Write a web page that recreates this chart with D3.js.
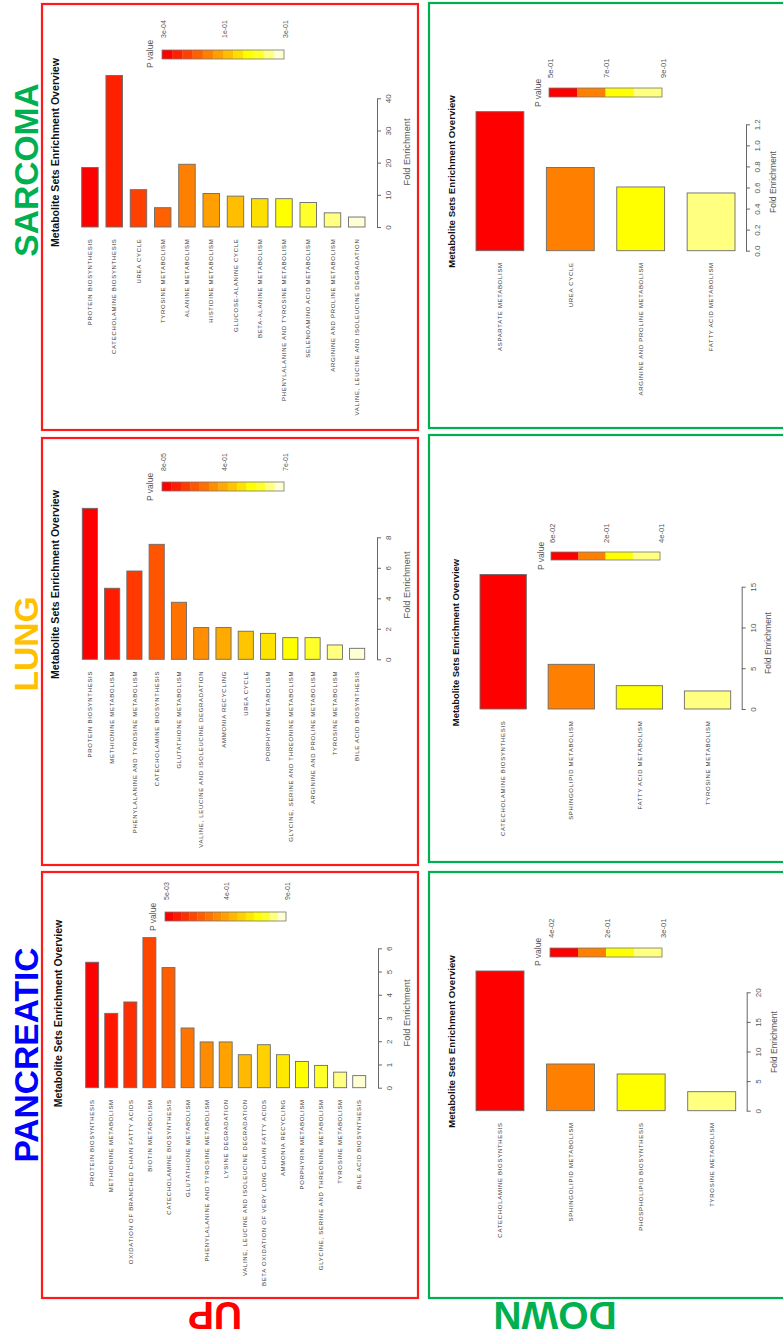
<!DOCTYPE html>
<html><head><meta charset="utf-8">
<script src="https://cdn.jsdelivr.net/npm/d3@7"></script>
<style>body{margin:0;background:#fff}svg text{font-family:"Liberation Sans",Arial,sans-serif}</style>
</head><body><svg id="c" width="783" height="1337"></svg>
<script>
// ---------- DATA ----------
const columns = ["SARCOMA", "LUNG", "PANCREATIC"];
const rows = ["UP", "DOWN"];

const sarcomaUpSets = ["PROTEIN BIOSYNTHESIS","CATECHOLAMINE BIOSYNTHESIS","UREA CYCLE","TYROSINE METABOLISM","ALANINE METABOLISM","HISTIDINE METABOLISM","GLUCOSE-ALANINE CYCLE","BETA-ALANINE METABOLISM","PHENYLALANINE AND TYROSINE METABOLISM","SELENOAMINO ACID METABOLISM","ARGININE AND PROLINE METABOLISM","VALINE, LEUCINE AND ISOLEUCINE DEGRADATION"];
const sarcomaUpFold = [18.5, 47.1, 11.6, 6.0, 19.5, 10.4, 9.6, 8.8, 8.8, 7.6, 4.4, 3.1];
const sarcomaUpTicks = [0, 10, 20, 30, 40];
const sarcomaUpP = ["3e-04", "1e-01", "3e-01"];

const lungUpSets = ["PROTEIN BIOSYNTHESIS","METHIONINE METABOLISM","PHENYLALANINE AND TYROSINE METABOLISM","CATECHOLAMINE BIOSYNTHESIS","GLUTATHIONE METABOLISM","VALINE, LEUCINE AND ISOLEUCINE DEGRADATION","AMMONIA RECYCLING","UREA CYCLE","PORPHYRIN METABOLISM","GLYCINE, SERINE AND THREONINE METABOLISM","ARGININE AND PROLINE METABOLISM","TYROSINE METABOLISM","BILE ACID BIOSYNTHESIS"];
const lungUpFold = [9.9, 4.66, 5.79, 7.54, 3.74, 2.08, 2.08, 1.84, 1.70, 1.42, 1.42, 0.94, 0.72];
const lungUpTicks = [0, 2, 4, 6, 8];
const lungUpP = ["8e-05", "4e-01", "7e-01"];

const pancUpSets = ["PROTEIN BIOSYNTHESIS","METHIONINE METABOLISM","OXIDATION OF BRANCHED CHAIN FATTY ACIDS","BIOTIN METABOLISM","CATECHOLAMINE BIOSYNTHESIS","GLUTATHIONE METABOLISM","PHENYLALANINE AND TYROSINE METABOLISM","LYSINE DEGRADATION","VALINE, LEUCINE AND ISOLEUCINE DEGRADATION","BETA OXIDATION OF VERY LONG CHAIN FATTY ACIDS","AMMONIA RECYCLING","PORPHYRIN METABOLISM","GLYCINE, SERINE AND THREONINE METABOLISM","TYROSINE METABOLISM","BILE ACID BIOSYNTHESIS"];
const pancUpFold = [5.40, 3.20, 3.69, 6.46, 5.17, 2.57, 1.97, 1.97, 1.42, 1.85, 1.42, 1.13, 0.96, 0.67, 0.52];
const pancUpTicks = [0, 1, 2, 3, 4, 5, 6];
const pancUpP = ["5e-03", "4e-01", "9e-01"];

const sarcomaDownSets = ["ASPARTATE METABOLISM","UREA CYCLE","ARGININE AND PROLINE METABOLISM","FATTY ACID METABOLISM"];
const sarcomaDownFold = [1.32, 0.79, 0.605, 0.548];
const sarcomaDownTicks = [0, 0.2, 0.4, 0.6, 0.8, 1.0, 1.2];
const sarcomaDownP = ["5e-01", "7e-01", "9e-01"];

const lungDownSets = ["CATECHOLAMINE BIOSYNTHESIS","SPHINGOLIPID METABOLISM","FATTY ACID METABOLISM","TYROSINE METABOLISM"];
const lungDownFold = [16.5, 5.48, 2.86, 2.21];
const lungDownTicks = [0, 5, 10, 15];
const lungDownP = ["6e-02", "2e-01", "4e-01"];

const pancDownSets = ["CATECHOLAMINE BIOSYNTHESIS","SPHINGOLIPID METABOLISM","PHOSPHOLIPID BIOSYNTHESIS","TYROSINE METABOLISM"];
const pancDownFold = [23.6, 7.89, 6.2, 3.21];
const pancDownTicks = [0, 5, 10, 15, 20];
const pancDownP = ["4e-02", "2e-01", "3e-01"];

// ---------- LAYOUT (display coordinates, figure is shown rotated) ----------
const RED = "#ff1a1a", GREEN = "#00b050";
const panels = [
  {sets: sarcomaUpSets, fold: sarcomaUpFold, ticks: sarcomaUpTicks, p: sarcomaUpP, fmt: d3.format("d"),
   box: [42, 4, 418, 430], color: RED, xr: [81.7, 365], yr: [227, 98.3], axisX: 377,
   title: [55, 152.5, 10.6], foldLab: [407, 152, 9.2], leg: [162, 284, 50, 59], legTickY: 38, pv: [150, 54], ls: 7},
  {sets: lungUpSets, fold: lungUpFold, ticks: lungUpTicks, p: lungUpP, fmt: d3.format("d"),
   box: [42, 438, 418, 865], color: RED, xr: [82.3, 364.7], yr: [659.3, 537.3], axisX: 377,
   title: [55, 584.5, 10.6], foldLab: [406.7, 585, 9.2], leg: [162, 284, 482, 491], legTickY: 471, pv: [150, 487], ls: 7},
  {sets: pancUpSets, fold: pancUpFold, ticks: pancUpTicks, p: pancUpP, fmt: d3.format("d"),
   box: [42, 872, 418, 1298], color: RED, xr: [85.7, 365.7], yr: [1087.7, 948.3], axisX: 378,
   title: [58, 1013.5, 10.5], foldLab: [407, 1013, 9.2], leg: [165, 286, 912, 921], legTickY: 900, pv: [153, 917], ls: 7},
  {sets: sarcomaDownSets, fold: sarcomaDownFold, ticks: sarcomaDownTicks, p: sarcomaDownP, fmt: d3.format(".1f"),
   box: [429, 3, 800, 428], color: GREEN, xr: [476, 735], yr: [250.7, 124.3], axisX: 746,
   title: [451, 181.5, 9.7], foldLab: [773, 182, 8.5], leg: [549, 662, 88, 97], legTickY: 78, pv: [538, 93], ls: 7.6},
  {sets: lungDownSets, fold: lungDownFold, ticks: lungDownTicks, p: lungDownP, fmt: d3.format("d"),
   box: [429, 435, 800, 862], color: GREEN, xr: [480, 730.7], yr: [709, 586.7], axisX: 741.7,
   title: [455, 642.5, 9.4], foldLab: [768, 643, 8.5], leg: [551, 660, 552, 560], legTickY: 543, pv: [540.7, 556], ls: 7.6},
  {sets: pancDownSets, fold: pancDownFold, ticks: pancDownTicks, p: pancDownP, fmt: d3.format("d"),
   box: [429, 872, 800, 1298], color: GREEN, xr: [476, 735.7], yr: [1110.7, 992.3], axisX: 746.7,
   title: [450.7, 1041.5, 9.7], foldLab: [774, 1042, 8.5], leg: [550, 662, 948, 957], legTickY: 938, pv: [538, 952], ls: 7.6}
];

// R heat.colors(n)
function heatColors(n) {
  const j = Math.floor(n / 4), i = n - j, out = [];
  for (let k = 0; k < i; k++) {
    const h = i > 1 ? k / (i - 1) : 0; // fraction of 0..1/6
    out.push(d3.rgb(255, Math.round(255 * h), 0).formatHex());
  }
  for (let k = 0; k < j; k++) {
    const s = j > 1 ? (1 - 1 / (2 * j)) - k * ((1 - 1 / j) / (j - 1)) : 0.5;
    out.push(d3.rgb(255, 255, Math.round(255 * (1 - s))).formatHex());
  }
  return out;
}

const svg = d3.select("#c");
svg.append("rect").attr("width", 783).attr("height", 1337).attr("fill", "#fff");

function vtext(g, bx, y, txt, anchor, size, fill, weight) {
  return g.append("text")
    .attr("transform", `translate(${bx},${y}) rotate(-90)`)
    .attr("text-anchor", anchor)
    .attr("font-size", size)
    .attr("fill", fill)
    .attr("font-weight", weight || "normal")
    .text(txt);
}

panels.forEach(P => {
  const g = svg.append("g");
  // frame
  g.append("rect").attr("x", P.box[0]).attr("y", P.box[1])
    .attr("width", P.box[2] - P.box[0]).attr("height", P.box[3] - P.box[1])
    .attr("fill", "none").attr("stroke", P.color).attr("stroke-width", 2.2);

  const x = d3.scaleBand().domain(P.sets).range(P.xr).paddingInner(0.32).paddingOuter(0);
  const y = d3.scaleLinear().domain([0, P.ticks[P.ticks.length - 1]]).range(P.yr);
  const cols = heatColors(P.sets.length);

  g.selectAll("rect.bar").data(P.sets).enter().append("rect").attr("class", "bar")
    .attr("x", d => x(d)).attr("width", x.bandwidth())
    .attr("y", (d, i) => y(P.fold[i])).attr("height", (d, i) => y(0) - y(P.fold[i]))
    .attr("fill", (d, i) => cols[i]).attr("stroke", "#6b6b6b").attr("stroke-width", 0.9);

  // category labels
  P.sets.forEach(s => {
    vtext(g, x(s) + x.bandwidth() / 2 + 2.2, y(0) + 11.5, s, "end", 6, "#3a3a3a")
      .attr("letter-spacing", 0.7);
  });

  // value axis
  const ax = g.append("g").attr("transform", `translate(${P.axisX},0)`)
    .call(d3.axisRight(y).tickValues(P.ticks).tickFormat(P.fmt).tickSize(4).tickSizeOuter(0));
  ax.select(".domain").attr("stroke", "#666");
  ax.selectAll(".tick line").attr("stroke", "#666");
  ax.selectAll(".tick text").attr("x", null).attr("dy", null)
    .attr("transform", "translate(14,0) rotate(-90)").attr("text-anchor", "middle")
    .attr("font-size", 8).attr("fill", "#555").attr("font-family", null);

  vtext(g, P.foldLab[0] + 3.2, P.foldLab[1], "Fold Enrichment", "middle", P.foldLab[2], "#555");
  vtext(g, P.title[0] + 3.8, P.title[1], "Metabolite Sets Enrichment Overview", "middle", P.title[2], "#111", "bold");

  // p-value legend
  const [lx0, lx1, ly0, ly1] = P.leg;
  const lx = d3.scaleBand().domain(d3.range(cols.length)).range([lx0, lx1]);
  g.selectAll("rect.leg").data(cols).enter().append("rect").attr("class", "leg")
    .attr("x", (d, i) => lx(i)).attr("width", lx.bandwidth() + 0.3)
    .attr("y", ly0).attr("height", ly1 - ly0).attr("fill", d => d);
  g.append("rect").attr("x", lx0).attr("y", ly0).attr("width", lx1 - lx0).attr("height", ly1 - ly0)
    .attr("fill", "none").attr("stroke", "#777").attr("stroke-width", 0.8);
  const pl = d3.scalePoint().domain(P.p).range([lx0 + 1, lx1 + 1]);
  P.p.forEach(t => vtext(g, pl(t) + 2.6, P.legTickY, t, "start", P.ls, "#555"));
  vtext(g, P.pv[0] + 3, P.pv[1], "P value", "middle", 8.5, "#555");
});

// column titles
const colTitle = [
  {t: columns[0], y: 170, c: GREEN},
  {t: columns[1], y: 644, c: "#ffc000"},
  {t: columns[2], y: 1055, c: "#0000ff"}
];
colTitle.forEach(d => vtext(svg, 38, d.y, d.t, "middle", 33.6, d.c, "bold"));

// row titles (upside down)
const rowTitle = [
  {t: rows[0], x: 215, c: "#ff0000"},
  {t: rows[1], x: 555, c: GREEN}
];
rowTitle.forEach(d => svg.append("text")
  .attr("transform", `translate(${d.x},1302) rotate(180)`)
  .attr("text-anchor", "middle").attr("font-size", 39).attr("font-weight", "bold")
  .attr("fill", d.c).text(d.t));
</script></body></html>
